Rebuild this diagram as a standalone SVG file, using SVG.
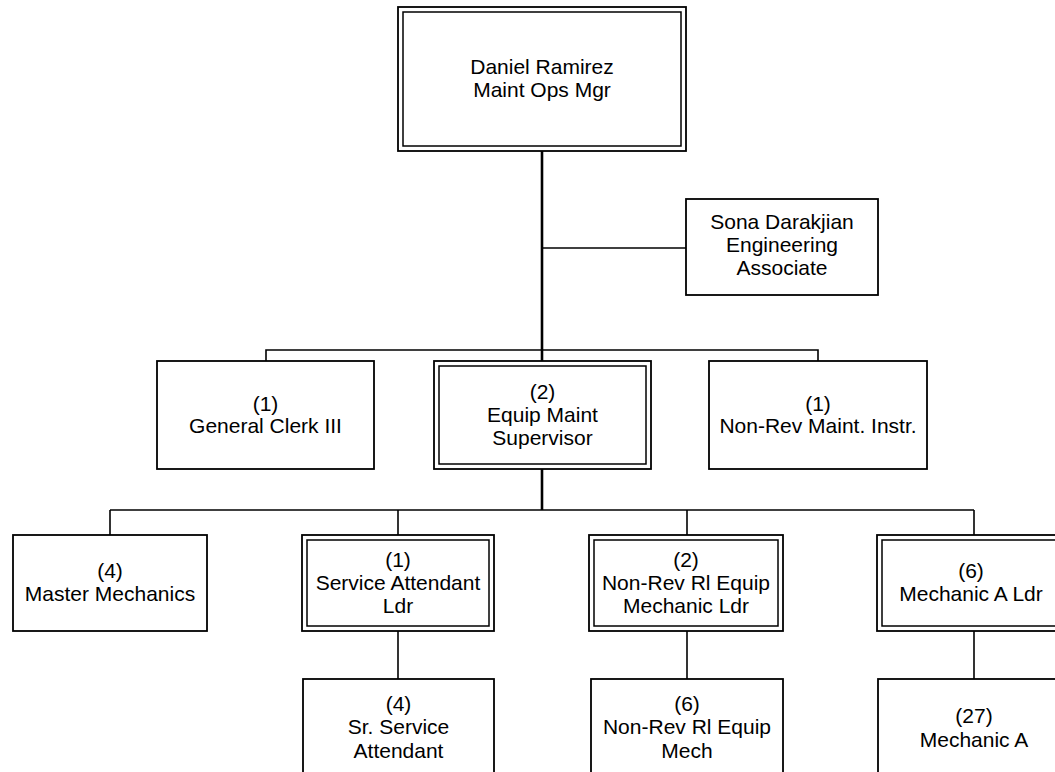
<svg xmlns="http://www.w3.org/2000/svg" width="1055" height="772" viewBox="0 0 1055 772">
<style>
.box{fill:#fff;stroke:#000;stroke-width:1.8}
.in{fill:none;stroke:#000;stroke-width:1.5}
.ln{stroke:#000;stroke-width:1.6;fill:none}
.tr{stroke:#000;stroke-width:2.6;fill:none}
text{font-family:"Liberation Sans",Arial,sans-serif;font-size:21px;fill:#000;text-anchor:middle}
</style>
<rect width="1055" height="772" fill="#fff"/>
<g id="connectors">
<line class="tr" x1="542" y1="151" x2="542" y2="361"/>
<line class="ln" x1="542" y1="248" x2="686" y2="248"/>
<polyline class="ln" points="266,361 266,350 818,350 818,361"/>
<line class="tr" x1="542" y1="469" x2="542" y2="510"/>
<line class="ln" x1="110" y1="510" x2="974" y2="510"/>
<line class="ln" x1="110" y1="510" x2="110" y2="535"/>
<line class="ln" x1="398" y1="510" x2="398" y2="535"/>
<line class="ln" x1="687" y1="510" x2="687" y2="535"/>
<line class="ln" x1="974" y1="510" x2="974" y2="535"/>
<line class="ln" x1="398" y1="631" x2="398" y2="679"/>
<line class="ln" x1="687" y1="631" x2="687" y2="679"/>
<line class="ln" x1="974" y1="631" x2="974" y2="679"/>
</g>
<g id="n-ramirez">
<rect class="box" x="398" y="7" width="288" height="144"/>
<rect class="in" x="403" y="12" width="278" height="134"/>
<text x="542" y="74">Daniel Ramirez</text>
<text x="542" y="97">Maint Ops Mgr</text>
</g>
<g id="n-sona">
<rect class="box" x="686" y="199" width="192" height="96"/>
<text x="782" y="229">Sona Darakjian</text>
<text x="782" y="252">Engineering</text>
<text x="782" y="275">Associate</text>
</g>
<g id="n-clerk">
<rect class="box" x="157" y="361" width="217" height="108"/>
<text x="265.5" y="411">(1)</text>
<text x="265.5" y="433">General Clerk III</text>
</g>
<g id="n-equip">
<rect class="box" x="434" y="361" width="217" height="108"/>
<rect class="in" x="439" y="366" width="207" height="98"/>
<text x="542.5" y="399">(2)</text>
<text x="542.5" y="422">Equip Maint</text>
<text x="542.5" y="445">Supervisor</text>
</g>
<g id="n-instr">
<rect class="box" x="709" y="361" width="218" height="108"/>
<text x="818" y="411">(1)</text>
<text x="818" y="433">Non-Rev Maint. Instr.</text>
</g>
<g id="n-master">
<rect class="box" x="13" y="535" width="194" height="96"/>
<text x="110" y="578">(4)</text>
<text x="110" y="601">Master Mechanics</text>
</g>
<g id="n-svcldr">
<rect class="box" x="302" y="535" width="192" height="96"/>
<rect class="in" x="307" y="540" width="182" height="86"/>
<text x="398" y="567">(1)</text>
<text x="398" y="590">Service Attendant</text>
<text x="398" y="613">Ldr</text>
</g>
<g id="n-nrldr">
<rect class="box" x="589" y="535" width="194" height="96"/>
<rect class="in" x="594" y="540" width="184" height="86"/>
<text x="686" y="567">(2)</text>
<text x="686" y="590">Non-Rev Rl Equip</text>
<text x="686" y="613">Mechanic Ldr</text>
</g>
<g id="n-mechldr">
<rect class="box" x="877" y="535" width="194" height="96"/>
<rect class="in" x="882" y="540" width="184" height="86"/>
<text x="971" y="578">(6)</text>
<text x="971" y="601">Mechanic A Ldr</text>
</g>
<g id="n-srsvc">
<rect class="box" x="303" y="679" width="191" height="97"/>
<text x="398.5" y="711">(4)</text>
<text x="398.5" y="734">Sr. Service</text>
<text x="398.5" y="758">Attendant</text>
</g>
<g id="n-nrmech">
<rect class="box" x="591" y="679" width="192" height="97"/>
<text x="687" y="711">(6)</text>
<text x="687" y="734">Non-Rev Rl Equip</text>
<text x="687" y="758">Mech</text>
</g>
<g id="n-mecha">
<rect class="box" x="878" y="679" width="192" height="97"/>
<text x="974" y="723">(27)</text>
<text x="974" y="747">Mechanic A</text>
</g>
</svg>
